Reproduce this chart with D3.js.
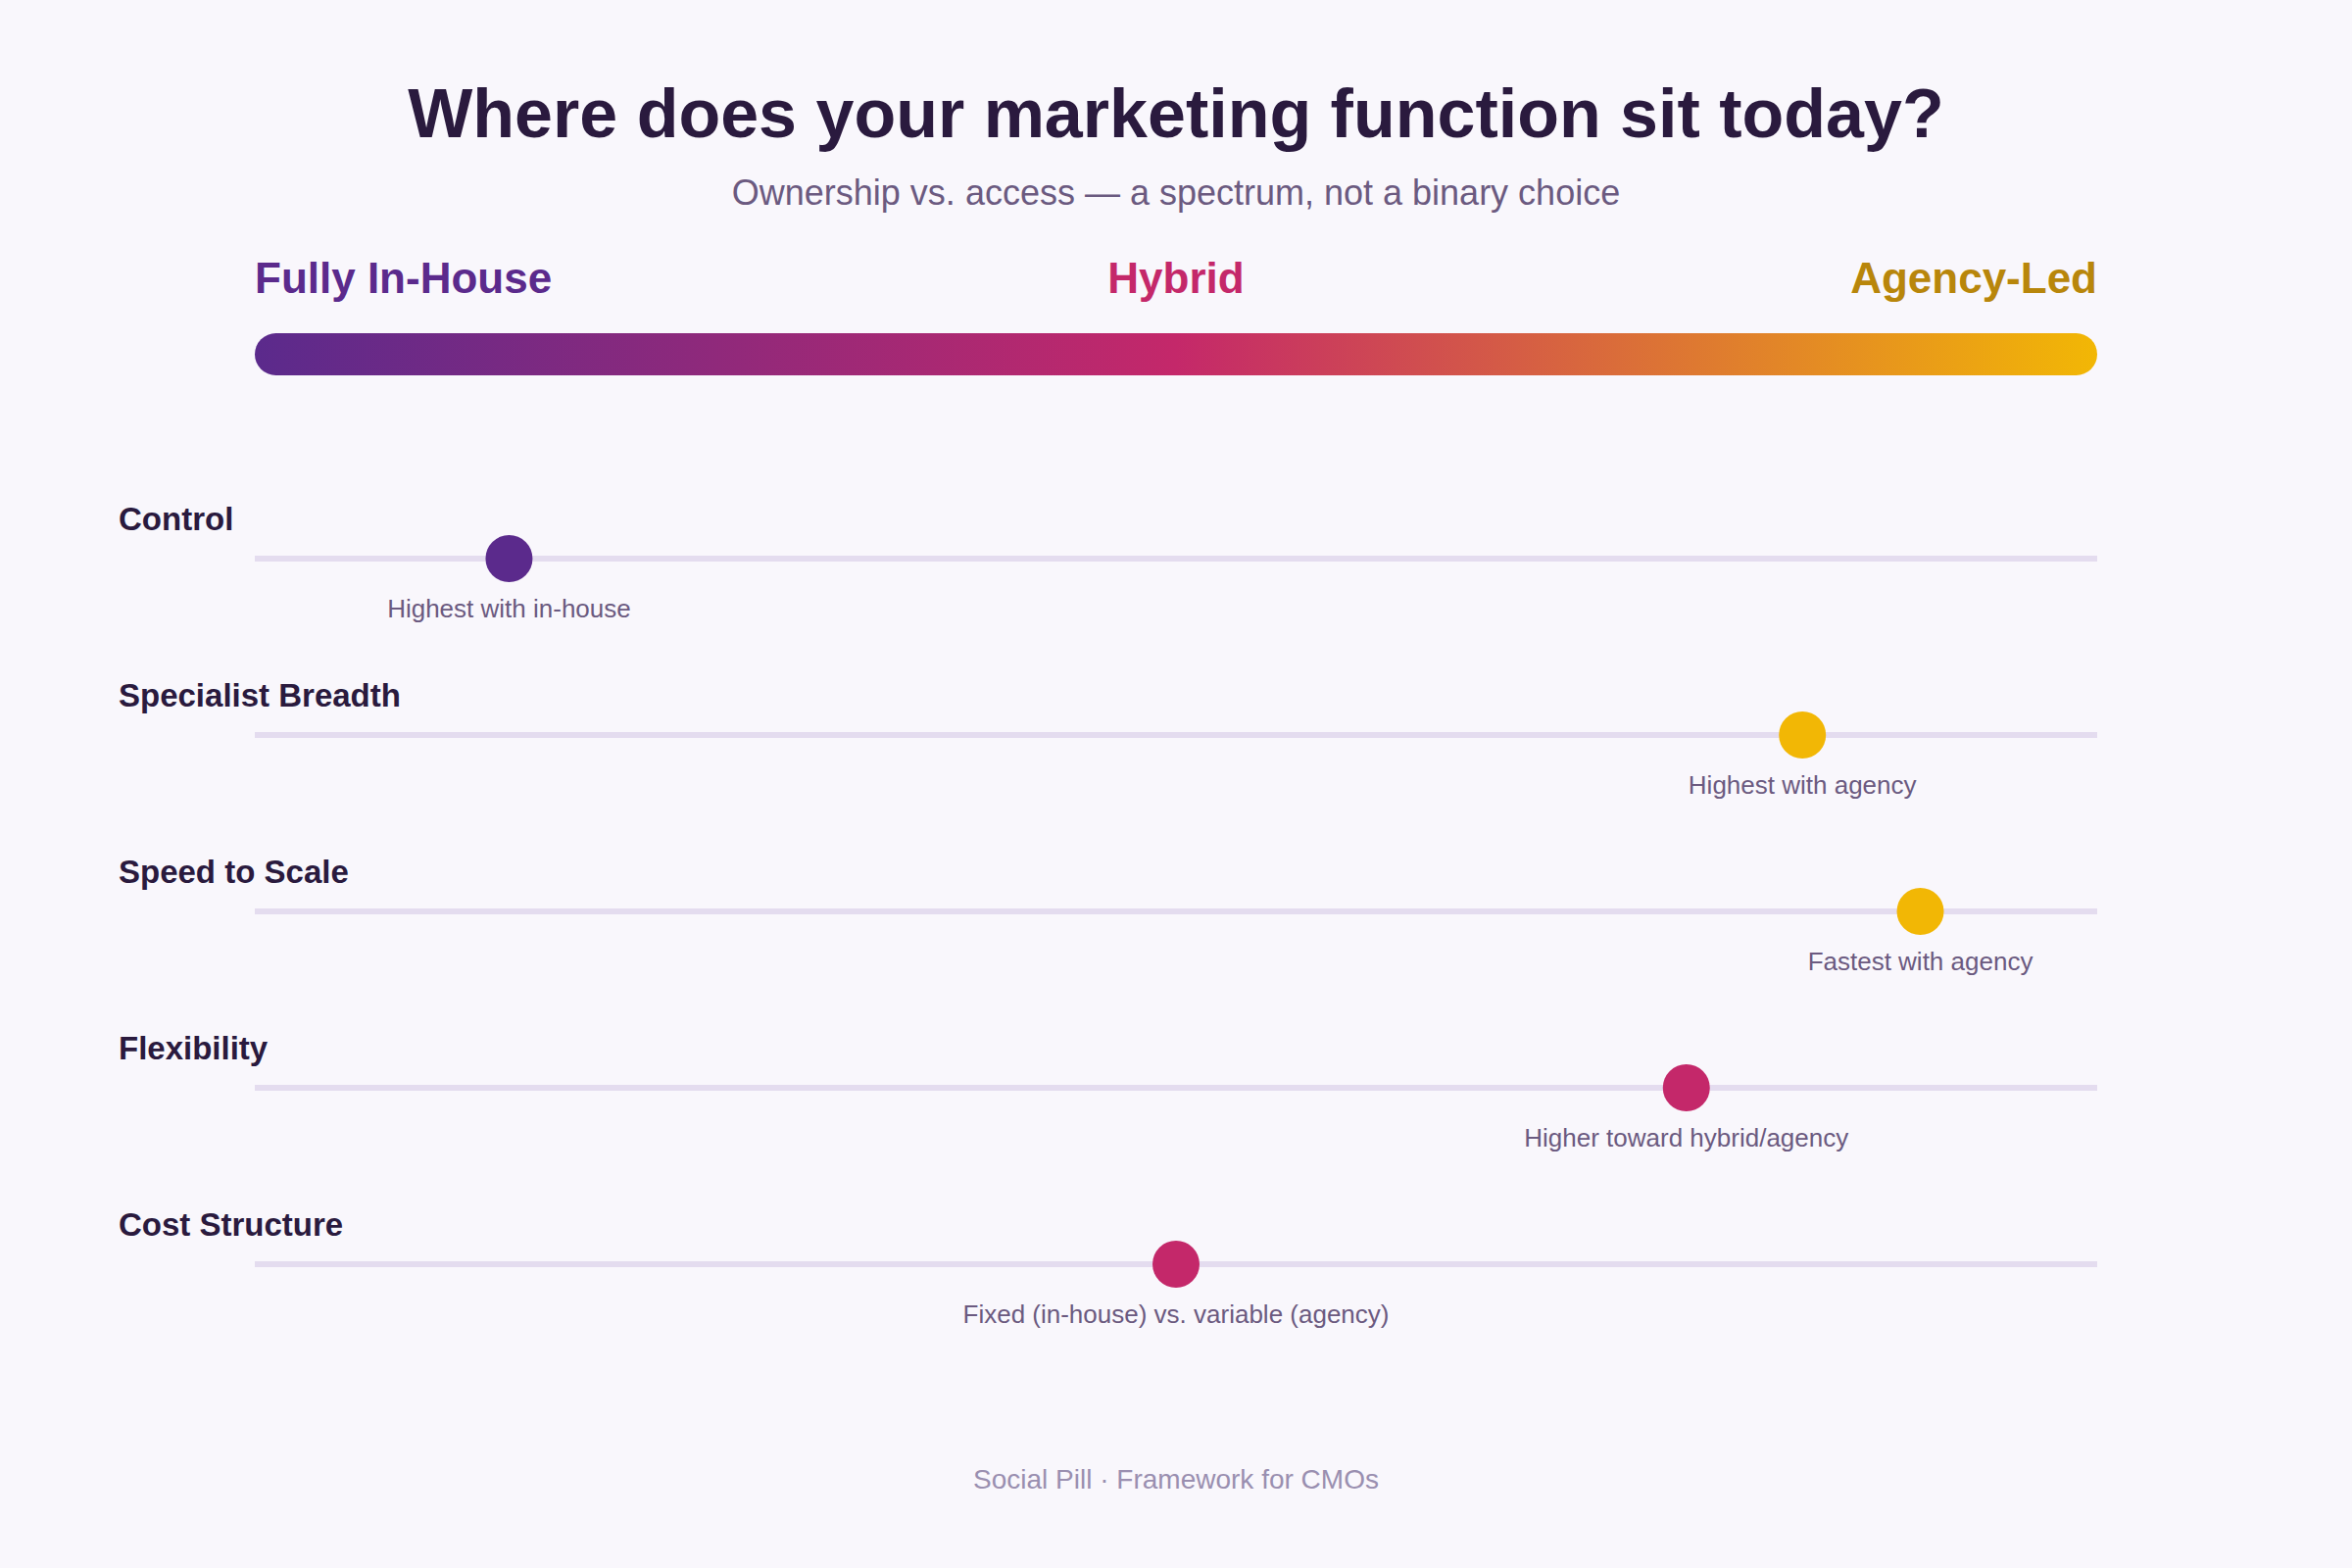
<!DOCTYPE html>
<html><head><meta charset="utf-8">
<script src="https://cdn.jsdelivr.net/npm/d3@7"></script>
<style>body{margin:0;background:#f9f7fc}</style></head>
<body><svg id="c" width="2400" height="1600"></svg>
<script>
const dimensions = ["Control","Specialist Breadth","Speed to Scale","Flexibility","Cost Structure"];
const positions = [0.138,0.840,0.904,0.777,0.5];
const notes = ["Highest with in-house","Highest with agency","Fastest with agency","Higher toward hybrid/agency","Fixed (in-house) vs. variable (agency)"];
const dotColors = ["#5b2a8c","#f2b705","#f2b705","#c4286a","#c4286a"];
const poles = ["Fully In-House","Hybrid","Agency-Led"];
const poleColors = ["#5b2a8c","#c4286a","#b8860b"];

const svg = d3.select("#c");
const F = "Liberation Sans, Arial, sans-serif";
svg.append("rect").attr("width",2400).attr("height",1600).attr("fill","#f9f7fc");
const x = d3.scaleLinear().domain([0,1]).range([260,2140]);
const y = d3.scaleBand().domain(dimensions).range([480,1380]);

svg.append("text").attr("x",1200).attr("y",140).attr("text-anchor","middle")
 .attr("font-family",F).attr("font-weight","bold").attr("font-size",70).attr("fill","#2a1a3e")
 .text("Where does your marketing function sit today?");
svg.append("text").attr("x",1200).attr("y",209).attr("text-anchor","middle")
 .attr("font-family",F).attr("font-size",36).attr("fill","#6b5a80")
 .text("Ownership vs. access — a spectrum, not a binary choice");

const anchors=["start","middle","end"];
poles.forEach((p,i)=>svg.append("text").attr("x",x(i/2)).attr("y",299).attr("text-anchor",anchors[i])
 .attr("font-family",F).attr("font-weight","bold").attr("font-size",44).attr("fill",poleColors[i]).text(p));

const g = svg.append("defs").append("linearGradient").attr("id","gr");
[["0%","#5b2a8c"],["50%","#c4286a"],["100%","#f2b705"]].forEach(s=>g.append("stop").attr("offset",s[0]).attr("stop-color",s[1]));
svg.append("rect").attr("x",x(0)).attr("y",340).attr("width",x(1)-x(0)).attr("height",43).attr("rx",21.5).attr("fill","url(#gr)");

dimensions.forEach((d,i)=>{
  const cy = y(d)+y.bandwidth()/2;
  svg.append("text").attr("x",121).attr("y",cy-29).attr("font-family",F).attr("font-weight","bold")
   .attr("font-size",33).attr("fill","#2a1a3e").text(d);
  svg.append("line").attr("x1",x(0)).attr("x2",x(1)).attr("y1",cy).attr("y2",cy)
   .attr("stroke","#e4dcef").attr("stroke-width",6);
  svg.append("circle").attr("cx",x(positions[i])).attr("cy",cy).attr("r",24).attr("fill",dotColors[i]);
  svg.append("text").attr("x",x(positions[i])).attr("y",cy+60).attr("text-anchor","middle")
   .attr("font-family",F).attr("font-size",26).attr("fill","#6b5a80").text(notes[i]);
});

svg.append("text").attr("x",1200).attr("y",1519).attr("text-anchor","middle")
 .attr("font-family",F).attr("font-size",28).attr("fill","#9a8fb0").text("Social Pill · Framework for CMOs");
</script></body></html>
